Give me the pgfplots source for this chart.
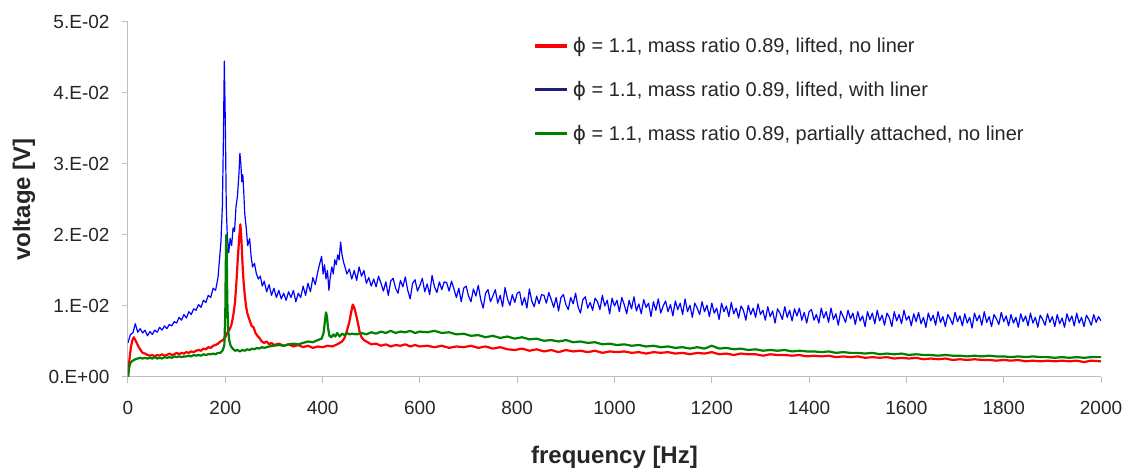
\documentclass[border=0pt]{standalone}
\usepackage{fontspec}
\setmainfont{Liberation Sans}
\newfontfamily\dejavu{DejaVu Sans}
\usepackage{pgfplots}
\pgfplotsset{compat=1.18}
\definecolor{axgray}{RGB}{190,190,190}
\definecolor{navyleg}{RGB}{30,30,125}
\definecolor{redline}{RGB}{255,0,0}
\definecolor{blueline}{RGB}{0,0,255}
\definecolor{greenline}{RGB}{0,128,0}
\begin{document}
\begin{tikzpicture}
\begin{axis}[
  scale only axis, width=973pt, height=355pt,
  xmin=0, xmax=2000, ymin=0, ymax=0.05,
  axis lines=left,
  axis line style={draw=axgray, line width=1pt, -},
  xtick={0,200,400,600,800,1000,1200,1400,1600,1800,2000},
  ytick={0,0.01,0.02,0.03,0.04,0.05},
  yticklabels={0.E+00,1.E-02,2.E-02,3.E-02,4.E-02,5.E-02},
  scaled y ticks=false,
  /pgf/number format/1000 sep={},
  /pgf/number format/assume math mode=true,
  tick align=outside, major tick length=6pt,
  tick style={draw=axgray, line width=1pt},
  tick label style={font=\fontsize{19}{21}\selectfont, text=black!85},
  xticklabel style={yshift=-15pt},
  yticklabel style={xshift=-9pt},
  xlabel={frequency [Hz]}, ylabel={voltage [V]},
  label style={font=\fontsize{24}{28}\selectfont\bfseries, text=black!85},
  xlabel style={at={(axis description cs:0.5,-0.225)}, anchor=center},
  ylabel style={at={(axis description cs:-0.107,0.5)}, anchor=center},
  legend style={at={(axis description cs:0.413,0.968)}, anchor=north west,
    draw=none, fill=none, font=\fontsize{20}{24}\selectfont, row sep=23pt,
    text=black!85},
  legend cell align=left,
  legend image code/.code={\draw[#1, line width=3.5pt] (0pt,0pt) -- (32pt,0pt); \path (36pt,0pt);},
]
% red: lifted, no liner
\addplot[redline, line width=2.2pt, line join=round, forget plot] coordinates {
(0,0) (3,0.25e-2) (6,0.42e-2) (9,0.52e-2) (12,0.56e-2) (15,0.52e-2) (18,0.48e-2) (22,0.42e-2) (26,0.38e-2) (30,0.34e-2)
(35,0.33e-2) (40,0.31e-2) (45,0.30e-2) (50,0.31e-2) (55,0.29e-2) (60,0.31e-2) (65,0.30e-2) (70,0.32e-2) (75,0.30e-2) (80,0.31e-2)
(85,0.33e-2) (90,0.31e-2) (95,0.32e-2) (100,0.34e-2) (105,0.32e-2) (110,0.34e-2) (115,0.33e-2) (120,0.35e-2) (125,0.34e-2) (130,0.36e-2)
(135,0.35e-2) (140,0.37e-2) (145,0.38e-2) (150,0.37e-2) (155,0.40e-2) (160,0.39e-2) (165,0.42e-2) (170,0.41e-2) (175,0.44e-2) (180,0.45e-2)
(185,0.47e-2) (190,0.50e-2) (195,0.52e-2) (200,0.56e-2) (204,0.62e-2) (208,0.66e-2) (212,0.72e-2) (216,0.85e-2) (220,1.05e-2) (223,1.35e-2)
(226,1.70e-2) (229,2.00e-2) (231,2.15e-2) (233,1.95e-2) (235,1.65e-2) (237,1.40e-2) (240,1.15e-2) (243,0.98e-2) (246,0.88e-2) (250,0.80e-2)
(254,0.72e-2) (258,0.70e-2) (262,0.62e-2) (266,0.58e-2) (270,0.55e-2) (275,0.50e-2) (280,0.48e-2) (285,0.50e-2) (290,0.46e-2) (295,0.48e-2)
(300,0.45e-2) (310,0.47e-2) (320,0.44e-2) (330,0.46e-2) (340,0.43e-2) (350,0.45e-2) (360,0.42e-2) (370,0.44e-2) (380,0.41e-2) (390,0.43e-2)
(400,0.42e-2) (410,0.44e-2) (420,0.43e-2) (430,0.46e-2) (440,0.50e-2) (445,0.55e-2) (450,0.65e-2) (455,0.78e-2) (459,0.92e-2) (462,1.02e-2)
(465,0.98e-2) (468,0.90e-2) (472,0.78e-2) (476,0.64e-2) (480,0.56e-2) (485,0.52e-2) (490,0.50e-2) (495,0.48e-2) (500,0.46e-2) (510,0.47e-2)
(520,0.44e-2) (530,0.46e-2) (540,0.43e-2) (550,0.45e-2) (560,0.44e-2) (570,0.46e-2) (580,0.43e-2) (590,0.45e-2) (600,0.43e-2) (615,0.44e-2)
(630,0.42e-2) (645,0.44e-2) (660,0.41e-2) (675,0.43e-2) (690,0.42e-2) (705,0.44e-2) (720,0.41e-2) (735,0.43e-2) (750,0.40e-2) (765,0.42e-2)
(780,0.39e-2) (795,0.38e-2) (810,0.40e-2) (825,0.37e-2) (840,0.39e-2) (855,0.36e-2) (870,0.38e-2) (885,0.35e-2) (900,0.38e-2) (915,0.36e-2)
(930,0.37e-2) (945,0.35e-2) (960,0.37e-2) (975,0.34e-2) (990,0.36e-2) (1005,0.35e-2) (1020,0.36e-2) (1035,0.34e-2) (1050,0.35e-2) (1065,0.33e-2)
(1080,0.35e-2) (1095,0.34e-2) (1110,0.35e-2) (1125,0.33e-2) (1140,0.34e-2) (1155,0.32e-2) (1170,0.34e-2) (1185,0.33e-2) (1200,0.35e-2) (1215,0.32e-2)
(1230,0.33e-2) (1245,0.31e-2) (1260,0.33e-2) (1275,0.32e-2) (1290,0.32e-2) (1305,0.30e-2) (1320,0.32e-2) (1335,0.31e-2) (1350,0.31e-2) (1365,0.30e-2)
(1380,0.31e-2) (1395,0.29e-2) (1410,0.30e-2) (1425,0.29e-2) (1440,0.30e-2) (1455,0.28e-2) (1470,0.29e-2) (1485,0.28e-2) (1500,0.29e-2) (1515,0.27e-2)
(1530,0.28e-2) (1545,0.27e-2) (1560,0.28e-2) (1575,0.26e-2) (1590,0.27e-2) (1605,0.26e-2) (1620,0.27e-2) (1635,0.25e-2) (1650,0.26e-2) (1665,0.25e-2)
(1680,0.26e-2) (1695,0.24e-2) (1710,0.25e-2) (1725,0.24e-2) (1740,0.25e-2) (1755,0.24e-2) (1770,0.24e-2) (1785,0.23e-2) (1800,0.24e-2) (1815,0.23e-2)
(1830,0.24e-2) (1845,0.22e-2) (1860,0.23e-2) (1875,0.22e-2) (1890,0.23e-2) (1905,0.22e-2) (1920,0.23e-2) (1935,0.22e-2) (1950,0.23e-2) (1965,0.21e-2)
(1980,0.23e-2) (2000,0.22e-2)
};
% blue: lifted, with liner
\addplot[blueline, line width=1.2pt, line join=round, forget plot] coordinates {
(0,0.48e-2) (5,0.60e-2) (10,0.62e-2) (15,0.75e-2) (20,0.63e-2) (25,0.68e-2) (30,0.62e-2) (35,0.66e-2) (40,0.58e-2) (45,0.64e-2)
(50,0.60e-2) (55,0.66e-2) (60,0.63e-2) (65,0.70e-2) (70,0.66e-2) (75,0.72e-2) (80,0.68e-2) (85,0.74e-2) (90,0.72e-2) (95,0.78e-2)
(100,0.76e-2) (105,0.84e-2) (110,0.80e-2) (115,0.88e-2) (120,0.83e-2) (125,0.92e-2) (130,0.88e-2) (135,0.96e-2) (140,0.94e-2) (145,1.02e-2)
(150,0.98e-2) (155,1.08e-2) (160,1.05e-2) (165,1.15e-2) (170,1.12e-2) (175,1.25e-2) (180,1.22e-2) (185,1.40e-2) (188,1.65e-2) (191,1.90e-2)
(194,2.40e-2) (196,3.30e-2) (198,4.45e-2) (200,3.60e-2) (202,2.40e-2) (204,2.00e-2) (207,1.75e-2) (210,1.95e-2) (213,1.85e-2) (216,2.10e-2)
(219,2.05e-2) (222,2.40e-2) (225,2.55e-2) (228,2.85e-2) (230,3.15e-2) (232,3.00e-2) (234,2.75e-2) (236,2.85e-2) (238,2.60e-2) (240,2.30e-2)
(243,2.10e-2) (246,1.85e-2) (250,1.95e-2) (253,1.70e-2) (256,1.55e-2) (260,1.60e-2) (264,1.45e-2) (268,1.38e-2) (272,1.42e-2) (276,1.28e-2)
(280,1.35e-2) (285,1.20e-2) (290,1.30e-2) (295,1.15e-2) (300,1.25e-2) (305,1.12e-2) (310,1.22e-2) (315,1.10e-2) (320,1.18e-2) (325,1.08e-2)
(330,1.20e-2) (335,1.12e-2) (340,1.22e-2) (345,1.06e-2) (350,1.18e-2) (355,1.12e-2) (360,1.28e-2) (365,1.15e-2) (370,1.32e-2) (375,1.20e-2)
(380,1.40e-2) (385,1.30e-2) (390,1.48e-2) (395,1.62e-2) (398,1.70e-2) (401,1.45e-2) (404,1.58e-2) (407,1.38e-2) (410,1.50e-2) (413,1.22e-2)
(416,1.42e-2) (419,1.55e-2) (422,1.45e-2) (425,1.65e-2) (428,1.58e-2) (431,1.72e-2) (434,1.65e-2) (437,1.90e-2) (440,1.72e-2) (443,1.62e-2)
(446,1.55e-2) (450,1.45e-2) (455,1.52e-2) (460,1.38e-2) (465,1.50e-2) (470,1.36e-2) (475,1.55e-2) (480,1.42e-2) (485,1.50e-2) (490,1.32e-2)
(495,1.40e-2) (500,1.28e-2)
(505,1.38e-2) (510,1.27e-2) (515,1.42e-2) (520,1.32e-2) (525,1.21e-2) (530,1.34e-2) (535,1.15e-2) (540,1.35e-2) (545,1.39e-2) (550,1.25e-2)
(555,1.18e-2) (560,1.36e-2) (565,1.27e-2) (570,1.41e-2) (575,1.22e-2) (580,1.10e-2) (585,1.32e-2) (590,1.37e-2) (595,1.21e-2) (600,1.29e-2)
(605,1.39e-2) (610,1.20e-2) (615,1.31e-2) (620,1.16e-2) (625,1.43e-2) (630,1.27e-2) (635,1.19e-2) (640,1.34e-2) (645,1.23e-2) (650,1.34e-2)
(655,1.33e-2) (660,1.21e-2) (665,1.35e-2) (670,1.24e-2) (675,1.12e-2) (680,1.25e-2) (685,1.06e-2) (690,1.25e-2) (695,1.28e-2) (700,1.14e-2)
(705,1.06e-2) (710,1.24e-2) (715,1.14e-2) (720,1.29e-2) (725,1.09e-2) (730,0.97e-2) (735,1.18e-2) (740,1.23e-2) (745,1.06e-2) (750,1.14e-2)
(755,1.23e-2) (760,1.04e-2) (765,1.15e-2) (770,0.99e-2) (775,1.26e-2) (780,1.10e-2) (785,1.01e-2) (790,1.16e-2) (795,1.05e-2) (800,1.18e-2)
(805,1.20e-2) (810,1.01e-2) (815,1.12e-2) (820,0.97e-2) (825,1.24e-2) (830,1.07e-2) (835,0.99e-2) (840,1.14e-2) (845,1.03e-2) (850,1.16e-2)
(855,1.15e-2) (860,1.04e-2) (865,1.19e-2) (870,1.09e-2) (875,0.98e-2) (880,1.12e-2) (885,0.93e-2) (890,1.12e-2) (895,1.16e-2) (900,1.02e-2)
(905,0.95e-2) (910,1.12e-2) (915,1.03e-2) (920,1.18e-2) (925,0.99e-2) (930,0.90e-2) (935,1.09e-2) (940,1.13e-2) (945,0.97e-2) (950,1.05e-2)
(955,0.94e-2) (960,1.11e-2) (965,1.06e-2) (970,0.95e-2) (975,1.15e-2) (980,1.00e-2) (985,1.08e-2) (990,0.89e-2) (995,1.11e-2) (1000,1.00e-2)
(1005,1.08e-2) (1010,0.92e-2) (1015,1.12e-2) (1020,1.02e-2) (1025,0.89e-2) (1030,1.08e-2) (1035,0.96e-2) (1040,1.13e-2) (1045,0.93e-2) (1050,1.03e-2)
(1055,0.89e-2) (1060,1.09e-2) (1065,0.98e-2) (1070,1.04e-2) (1075,0.85e-2) (1080,1.06e-2) (1085,0.94e-2) (1090,1.10e-2) (1095,0.90e-2) (1100,1.00e-2)
(1105,1.07e-2) (1110,0.92e-2) (1115,1.02e-2) (1120,0.86e-2) (1125,1.07e-2) (1130,0.95e-2) (1135,1.04e-2) (1140,0.88e-2) (1145,1.10e-2) (1150,0.92e-2)
(1155,1.01e-2) (1160,0.84e-2) (1165,1.04e-2) (1170,0.97e-2) (1175,0.88e-2) (1180,1.06e-2) (1185,0.92e-2) (1190,1.01e-2) (1195,0.85e-2) (1200,1.04e-2)
(1205,0.90e-2) (1210,0.97e-2) (1215,0.81e-2) (1220,1.04e-2) (1225,0.92e-2) (1230,1.00e-2) (1235,0.85e-2) (1240,1.05e-2) (1245,0.89e-2) (1250,0.97e-2)
(1255,0.83e-2) (1260,1.00e-2) (1265,0.94e-2) (1270,0.80e-2) (1275,1.01e-2) (1280,0.88e-2) (1285,0.97e-2) (1290,0.84e-2) (1295,1.03e-2) (1300,0.88e-2)
(1305,0.94e-2) (1310,0.80e-2) (1315,0.99e-2) (1320,0.85e-2) (1325,0.93e-2) (1330,0.76e-2) (1335,0.96e-2) (1340,0.90e-2) (1345,0.81e-2) (1350,0.99e-2)
(1355,0.84e-2) (1360,0.94e-2) (1365,0.79e-2) (1370,0.96e-2) (1375,0.86e-2) (1380,0.97e-2) (1385,0.80e-2) (1390,0.91e-2) (1395,0.76e-2) (1400,0.92e-2)
(1405,0.95e-2) (1410,0.80e-2) (1415,0.88e-2) (1420,0.76e-2) (1425,0.97e-2) (1430,0.83e-2) (1435,0.92e-2) (1440,0.77e-2) (1445,0.97e-2) (1450,0.81e-2)
(1455,0.89e-2) (1460,0.73e-2) (1465,0.93e-2) (1470,0.85e-2) (1475,0.77e-2) (1480,0.94e-2) (1485,0.82e-2) (1490,0.90e-2) (1495,0.74e-2) (1500,0.92e-2)
(1505,0.79e-2) (1510,0.86e-2) (1515,0.71e-2) (1520,0.92e-2) (1525,0.81e-2) (1530,0.90e-2) (1535,0.75e-2) (1540,0.94e-2) (1545,0.79e-2) (1550,0.87e-2)
(1555,0.73e-2) (1560,0.90e-2) (1565,0.84e-2) (1570,0.71e-2) (1575,0.92e-2) (1580,0.79e-2) (1585,0.88e-2) (1590,0.75e-2) (1595,0.94e-2) (1600,0.80e-2)
(1605,0.86e-2) (1610,0.72e-2) (1615,0.89e-2) (1620,0.78e-2) (1625,0.91e-2) (1630,0.75e-2) (1635,0.84e-2) (1640,0.70e-2) (1645,0.90e-2) (1650,0.79e-2)
(1655,0.87e-2) (1660,0.73e-2) (1665,0.92e-2) (1670,0.77e-2) (1675,0.85e-2) (1680,0.71e-2) (1685,0.88e-2) (1690,0.82e-2) (1695,0.74e-2) (1700,0.91e-2)
(1705,0.78e-2) (1710,0.86e-2) (1715,0.72e-2) (1720,0.89e-2) (1725,0.76e-2) (1730,0.84e-2) (1735,0.69e-2) (1740,0.90e-2) (1745,0.79e-2) (1750,0.87e-2)
(1755,0.73e-2) (1760,0.92e-2) (1765,0.77e-2) (1770,0.85e-2) (1775,0.71e-2) (1780,0.88e-2) (1785,0.82e-2) (1790,0.74e-2) (1795,0.91e-2) (1800,0.78e-2)
(1805,0.86e-2) (1810,0.72e-2) (1815,0.88e-2) (1820,0.76e-2) (1825,0.84e-2) (1830,0.70e-2) (1835,0.89e-2) (1840,0.78e-2) (1845,0.86e-2) (1850,0.72e-2)
(1855,0.90e-2) (1860,0.76e-2) (1865,0.84e-2) (1870,0.70e-2) (1875,0.87e-2) (1880,0.81e-2) (1885,0.73e-2) (1890,0.89e-2) (1895,0.77e-2) (1900,0.85e-2)
(1905,0.71e-2) (1910,0.88e-2) (1915,0.75e-2) (1920,0.83e-2) (1925,0.70e-2) (1930,0.89e-2) (1935,0.78e-2) (1940,0.86e-2) (1945,0.72e-2) (1950,0.90e-2)
(1955,0.76e-2) (1960,0.84e-2) (1965,0.71e-2) (1970,0.87e-2) (1975,0.81e-2) (1980,0.73e-2) (1985,0.88e-2) (1990,0.77e-2) (1995,0.85e-2) (2000,0.79e-2)
};
% green: partially attached, no liner
\addplot[greenline, line width=2.2pt, line join=round, forget plot] coordinates {
(0,0) (2,0.12e-2) (4,0.18e-2) (6,0.21e-2) (10,0.23e-2) (15,0.25e-2) (20,0.26e-2) (25,0.27e-2) (30,0.26e-2) (35,0.27e-2)
(40,0.26e-2) (45,0.27e-2) (50,0.26e-2) (55,0.28e-2) (60,0.26e-2) (65,0.27e-2) (70,0.26e-2) (75,0.28e-2) (80,0.27e-2) (85,0.28e-2)
(90,0.27e-2) (95,0.29e-2) (100,0.28e-2) (105,0.29e-2) (110,0.28e-2) (115,0.29e-2) (120,0.29e-2) (125,0.30e-2) (130,0.29e-2) (135,0.31e-2)
(140,0.30e-2) (145,0.31e-2) (150,0.30e-2) (155,0.32e-2) (160,0.31e-2) (165,0.32e-2) (170,0.32e-2) (175,0.33e-2) (180,0.32e-2) (185,0.34e-2)
(190,0.34e-2) (195,0.38e-2) (198,0.45e-2) (200,0.90e-2) (201,1.60e-2) (202,2.00e-2) (203,1.75e-2) (204,1.10e-2) (206,0.65e-2) (208,0.52e-2)
(211,0.44e-2) (215,0.40e-2) (220,0.37e-2) (225,0.38e-2) (230,0.36e-2) (235,0.38e-2) (240,0.37e-2) (245,0.39e-2) (250,0.38e-2) (255,0.40e-2)
(260,0.39e-2) (265,0.41e-2) (270,0.40e-2) (275,0.42e-2) (280,0.41e-2) (290,0.43e-2) (300,0.44e-2) (310,0.45e-2) (320,0.44e-2) (330,0.46e-2)
(340,0.47e-2) (350,0.46e-2) (360,0.48e-2) (370,0.50e-2) (380,0.49e-2) (390,0.52e-2) (398,0.54e-2) (402,0.62e-2) (405,0.80e-2) (407,0.91e-2)
(409,0.85e-2) (411,0.70e-2) (414,0.58e-2) (418,0.56e-2) (422,0.60e-2) (426,0.57e-2) (430,0.62e-2) (435,0.57e-2) (440,0.61e-2) (445,0.59e-2)
(450,0.62e-2) (455,0.60e-2) (460,0.61e-2) (470,0.60e-2) (480,0.62e-2) (490,0.60e-2) (500,0.63e-2) (510,0.61e-2) (520,0.64e-2) (530,0.62e-2)
(540,0.65e-2) (550,0.62e-2) (560,0.64e-2) (570,0.63e-2) (580,0.65e-2) (590,0.62e-2) (600,0.64e-2) (615,0.63e-2) (630,0.65e-2) (645,0.62e-2)
(660,0.63e-2) (675,0.60e-2) (690,0.61e-2) (705,0.58e-2) (720,0.59e-2) (735,0.56e-2) (750,0.58e-2) (765,0.55e-2) (780,0.57e-2) (795,0.54e-2)
(810,0.56e-2) (825,0.53e-2) (840,0.54e-2) (855,0.51e-2) (870,0.52e-2) (885,0.50e-2) (900,0.52e-2) (915,0.49e-2) (930,0.50e-2) (945,0.48e-2)
(960,0.49e-2) (975,0.46e-2) (990,0.47e-2) (1005,0.45e-2) (1020,0.46e-2) (1035,0.44e-2) (1050,0.45e-2) (1065,0.43e-2) (1080,0.44e-2) (1095,0.42e-2)
(1110,0.43e-2) (1125,0.41e-2) (1140,0.42e-2) (1155,0.40e-2) (1170,0.42e-2) (1185,0.40e-2) (1200,0.44e-2) (1215,0.40e-2) (1230,0.41e-2) (1245,0.39e-2)
(1260,0.40e-2) (1275,0.38e-2) (1290,0.39e-2) (1305,0.37e-2) (1320,0.38e-2) (1335,0.37e-2) (1350,0.38e-2) (1365,0.36e-2) (1380,0.37e-2) (1395,0.36e-2)
(1410,0.36e-2) (1425,0.35e-2) (1440,0.36e-2) (1455,0.34e-2) (1470,0.35e-2) (1485,0.34e-2) (1500,0.34e-2) (1515,0.33e-2) (1530,0.34e-2) (1545,0.32e-2)
(1560,0.33e-2) (1575,0.32e-2) (1590,0.33e-2) (1605,0.31e-2) (1620,0.32e-2) (1635,0.31e-2) (1650,0.31e-2) (1665,0.30e-2) (1680,0.31e-2) (1695,0.30e-2)
(1710,0.30e-2) (1725,0.29e-2) (1740,0.30e-2) (1755,0.29e-2) (1770,0.30e-2) (1785,0.29e-2) (1800,0.29e-2) (1815,0.28e-2) (1830,0.29e-2) (1845,0.28e-2)
(1860,0.29e-2) (1875,0.28e-2) (1890,0.28e-2) (1905,0.27e-2) (1920,0.28e-2) (1935,0.27e-2) (1950,0.28e-2) (1965,0.27e-2) (1980,0.28e-2) (2000,0.28e-2)
};
\addlegendimage{redline}
\addlegendentry{{\dejavu ϕ} = 1.1, mass ratio 0.89, lifted, no liner}
\addlegendimage{navyleg}
\addlegendentry{{\dejavu ϕ} = 1.1, mass ratio 0.89, lifted, with liner}
\addlegendimage{greenline}
\addlegendentry{{\dejavu ϕ} = 1.1, mass ratio 0.89, partially attached, no liner}
\end{axis}
\pgfresetboundingbox
\path ([shift={(-128pt,-92pt)}]current axis.south west) rectangle ([shift={(27pt,22pt)}]current axis.north east);
\end{tikzpicture}
\end{document}
